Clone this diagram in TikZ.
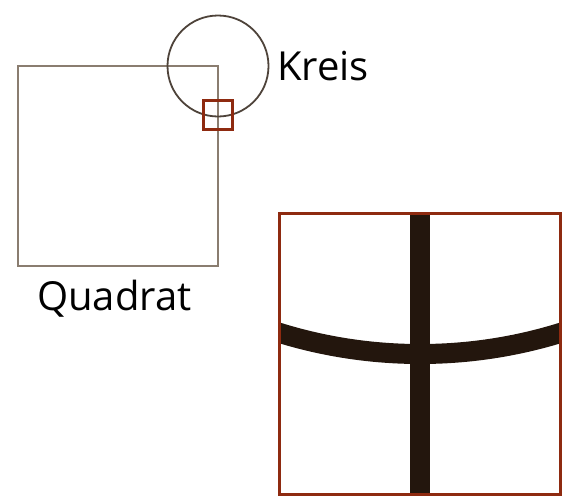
\documentclass[tikz,border=0pt]{standalone}
\usepackage{fontspec}
\setmainfont{Open Sans}
\usetikzlibrary{positioning}
\definecolor{taupe}{HTML}{8A7D70}
\definecolor{umber}{HTML}{4E433A}
\definecolor{rust}{HTML}{8E2A10}
\definecolor{ink}{HTML}{23160D}
\tikzset{quad/.style={draw=taupe,line width=2.2pt,minimum size=200pt,inner sep=0pt},ring/.style={circle,draw=umber,line width=1.8pt,minimum size=101pt,inner sep=0pt},lens/.style={draw=rust,line width=3pt,inner sep=0pt},lbl/.style={inner sep=0pt,anchor=base west,text=black,font=\fontsize{40}{48}\selectfont},fat/.style={draw=ink,line width=20pt}}
\begin{document}
\begin{tikzpicture}[x=1pt,y=-1pt]
\useasboundingbox (0,0) rectangle (567,498);
\node[quad] (q) at (118,166) {};
\node[ring] (k) at (218,66) {};
\node[lens,minimum size=29pt] (small) at (218,115) {};
\node[lbl] (kl) at (277,80) {Kreis};
\node[lbl] (ql) at (37,310) {Quadrat};
\begin{scope}
\clip (279,213) rectangle (560,495);
\draw[fat] (420,200)--(420,510);
\draw[fat] (420,-121) circle[radius=475pt];
\end{scope}
\node[lens,minimum size=281pt] (big) at (419.5,354) {};
\end{tikzpicture}
\end{document}
